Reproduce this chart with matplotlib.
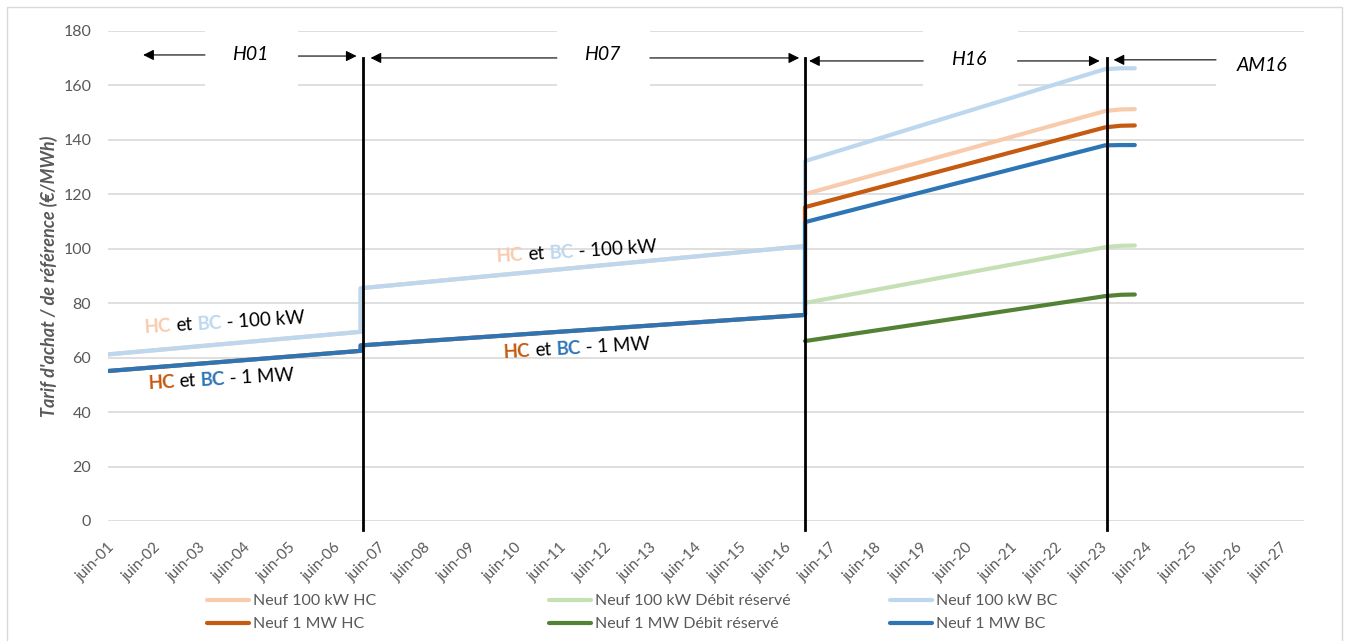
import matplotlib.pyplot as plt
from matplotlib.patches import Rectangle
import numpy as np

plt.rcParams['font.family'] = ['Lato', 'DejaVu Sans']

# x = years, juin-01 -> 1, juin-27 -> 27
tick_labels = ['juin-%02d' % i for i in range(1, 28)]
tick_pos = list(range(1, 28))

# Series values (€/MWh)
x_main = [1, 6.6, 6.6, 16.45, 16.45, 23.1, 23.45, 23.76]
hc_100 = [61.2, 69.5, 85.5, 101.0, 120.1, 150.6, 151.2, 151.3]
bc_100 = [61.2, 69.5, 85.5, 101.0, 132.2, 166.0, 166.3, 166.3]
hc_1mw = [55.1, 62.5, 64.5, 75.7, 115.3, 144.6, 145.2, 145.3]
bc_1mw = [55.1, 62.5, 64.5, 75.7, 109.8, 138.0, 138.1, 138.1]
x_dr = [16.45, 23.1, 23.45, 23.76]
dr_100 = [80.1, 100.6, 101.1, 101.2]
dr_1mw = [66.1, 82.6, 83.1, 83.2]

# Tariff periods
period_lines = [6.66, 16.45, 23.14]
period_names = ['H01', 'H07', 'H16', 'AM16']

c_hc100 = '#F8CBAD'
c_hc1 = '#C55A11'
c_dr100 = '#C5E0B4'
c_dr1 = '#548235'
c_bc100 = '#BDD7EE'
c_bc1 = '#2E75B6'
grey = '#595959'

fig = plt.figure(figsize=(13.46, 6.41), dpi=100)
ax = fig.add_axes([108 / 1346, 1 - 521 / 641, (1304 - 108) / 1346, (521 - 31) / 641])

# outer chart border
fig.patches.append(Rectangle((7 / 1346, -0.01), (1342 - 7) / 1346, 1 - 7 / 641 + 0.01,
                             transform=fig.transFigure, fill=False, ec='#D9D9D9', lw=1))

kw = dict(lw=3, solid_capstyle='round', solid_joinstyle='round', zorder=3)
h1, = ax.plot(x_main, hc_100, color=c_hc100, label='Neuf 100 kW HC', **kw)
h2, = ax.plot(x_dr, dr_100, color=c_dr100, label='Neuf 100 kW Débit réservé', **kw)
h3, = ax.plot(x_main, bc_100, color=c_bc100, label='Neuf 100 kW BC', **kw)
h4, = ax.plot(x_main, hc_1mw, color=c_hc1, label='Neuf 1 MW HC', **kw)
h5, = ax.plot(x_dr, dr_1mw, color=c_dr1, label='Neuf 1 MW Débit réservé', **kw)
h6, = ax.plot(x_main, bc_1mw, color=c_bc1, label='Neuf 1 MW BC', **kw)

ax.set_xlim(1, 27.51)
ax.set_ylim(0, 180)
ax.set_yticks(range(0, 181, 20))
ax.set_xticks(tick_pos)
ax.set_xticklabels(tick_labels, rotation=45, ha='right', rotation_mode='anchor')
ax.tick_params(axis='x', length=0, pad=14, labelsize=11, labelcolor=grey)
ax.tick_params(axis='y', length=0, pad=12, labelsize=11.5, labelcolor=grey)
ax.grid(axis='y', color='#D9D9D9', lw=1.2)
ax.set_axisbelow(True)
for s in ax.spines.values():
    s.set_visible(False)
ax.set_ylabel("Tarif d'achat / de référence (€/MWh)", fontsize=13, fontweight='bold',
              fontstyle='italic', color=grey, labelpad=4)

# vertical period separators
for xv in period_lines:
    ax.plot([xv, xv], [-3.3, 170], color='black', lw=2, zorder=5, clip_on=False)

# white boxes behind period names
boxes = [(3.15, 5.22, 150, 186), (10.95, 13.01, 150, 186), (19.07, 21.16, 150, 186),
         (25.56, 27.6, 145, 176)]
for x0, x1, y0, y1 in boxes:
    ax.add_patch(Rectangle((x0, y0), x1 - x0, y1 - y0, fc='white', ec='none', zorder=2,
                           clip_on=False))

text_pos = [(4.15, 171.2), (11.95, 171.2), (20.09, 169.4), (26.58, 167.2)]
for name, (tx, ty) in zip(period_names, text_pos):
    ax.text(tx, ty, name, fontsize=14, fontstyle='italic', ha='center', va='center', zorder=6)

arrows = [((3.15, 171.2), (1.78, 171.2)), ((5.22, 170.8), (6.51, 170.8)),
          ((10.95, 170.1), (6.82, 170.1)), ((13.01, 170.1), (16.32, 170.1)),
          ((19.07, 169.0), (16.54, 169.0)), ((21.16, 169.0), (22.98, 169.0)),
          ((25.56, 169.4), (23.29, 169.4))]
for tail, head in arrows:
    ax.annotate('', xy=head, xytext=tail, zorder=6,
                arrowprops=dict(arrowstyle='-|>', color='black', lw=0.8,
                                mutation_scale=16, shrinkA=0, shrinkB=0))

# multi-coloured rotated labels
fig.canvas.draw()
renderer = fig.canvas.get_renderer()


def text_width(s, size, weight):
    t = fig.text(0, 0, s, fontsize=size, fontweight=weight)
    w = t.get_window_extent(renderer).width
    t.remove()
    return w


def coloured_label(x, y, parts, angle, size=13.5):
    space = text_width('a a', size, 'normal') - text_width('aa', size, 'normal')
    ca, sa = np.cos(np.radians(angle)), np.sin(np.radians(angle))
    off = 0
    for s, col, wt in parts:
        ax.annotate(s, xy=(x, y), xytext=(off * ca, off * sa), textcoords='offset pixels',
                    rotation=angle, rotation_mode='anchor', ha='left', va='baseline',
                    color=col, fontsize=size, fontweight=wt, zorder=6)
        off += text_width(s, size, wt) + space


parts_100 = [('HC', c_hc100, 'bold'), ('et', 'black', 'normal'), ('BC', c_bc100, 'bold'),
             ('- 100 kW', 'black', 'normal')]
parts_1mw = [('HC', c_hc1, 'bold'), ('et', 'black', 'normal'), ('BC', c_bc1, 'bold'),
             ('- 1 MW', 'black', 'normal')]
coloured_label(1.82, 69.0, parts_100, 3.5)
coloured_label(1.89, 48.6, parts_1mw, 3.0)
coloured_label(9.61, 95.2, parts_100, 3.5)
coloured_label(9.77, 60.0, parts_1mw, 3.0)

# legend in three columns, rows filled first like Excel
leg_kw = dict(loc='upper left', frameon=False, fontsize=11.5, handlelength=2.6,
              handletextpad=0.25, labelspacing=0.55, borderpad=0, borderaxespad=0,
              labelcolor=grey)
cols = [([h1, h4], 207), ([h2, h5], 549), ([h3, h6], 890)]
for hs, xp in cols:
    fig.legend(handles=hs, labels=[h.get_label() for h in hs],
               bbox_to_anchor=(xp / 1346, 1 - 594 / 641), **leg_kw)

fig.savefig('out.png', dpi=100)
